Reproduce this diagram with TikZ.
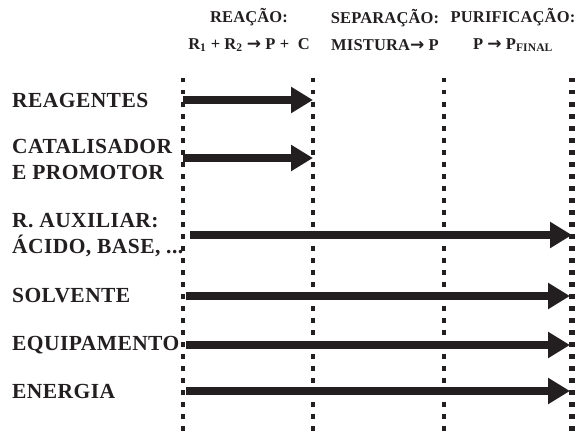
\documentclass[tikz,border=0pt]{standalone}
\usepackage{fontspec}
\setmainfont{Liberation Serif}
\newfontfamily\arrowfont{DejaVu Sans}
\usetikzlibrary{arrows.meta}
\definecolor{ink}{HTML}{231F20}
\newcommand{\rarr}{{\arrowfont\bfseries\fontsize{17}{17}\selectfont →}}
\begin{document}
\begin{tikzpicture}[x=1pt,y=-1pt,
  lab/.style={anchor=west,inner sep=0pt,align=left,text=ink,
    font=\fontsize{21.5}{26}\selectfont\bfseries\addfontfeature{LetterSpace=2}},
  head/.style={inner sep=0pt,align=center,text=ink,
    font=\fontsize{16.5}{27}\selectfont\bfseries\addfontfeature{LetterSpace=1}},
  divider/.style={draw=ink,line width=4.5pt,dash pattern=on 4.5pt off 7.5pt},
  flow/.style={draw=ink,line width=8pt,-{Triangle[length=22pt,width=25pt]}}]
\useasboundingbox (0,0) rectangle (576,436);
% headers
\node[head] (h1) at (249,30) {REAÇÃO:\\R\textsubscript{1} + R\textsubscript{2} \rarr\ P +~ C};
\node[head] (h2) at (385,30) {SEPARAÇÃO:\\MISTURA\rarr\ P};
\node[head] (h3) at (513,30) {PURIFICAÇÃO:\\P \rarr\ P\textsubscript{FINAL}};
% dividers
\coordinate (d1t) at (183,78); \coordinate (d1b) at (183,438);
\coordinate (d2t) at (313,78); \coordinate (d2b) at (313,438);
\coordinate (d3t) at (444,78); \coordinate (d3b) at (444,438);
\coordinate (d4t) at (572,78); \coordinate (d4b) at (572,438);
\draw[divider] (d1t) -- (d1b);
\draw[divider] (d2t) -- (d2b);
\draw[divider] (d3t) -- (d3b);
\draw[divider,line width=5.5pt] (d4t) -- (d4b);
% labels
\node[lab] (l1) at (12,100) {REAGENTES};
\node[lab] (l2) at (12,159) {CATALISADOR\\E PROMOTOR};
\node[lab] (l3) at (12,235) {R. AUXILIAR:\\ÁCIDO, BASE, ...};
\node[lab] (l4) at (12,296) {SOLVENTE};
\node[lab] (l5) at (12,345) {EQUIPAMENTO};
\node[lab] (l6) at (12,391) {ENERGIA};
% flows
\coordinate (a1s) at (183,100); \coordinate (a1e) at (313,100);
\coordinate (a2s) at (183,158); \coordinate (a2e) at (313,158);
\coordinate (a3s) at (190,235); \coordinate (a3e) at (572,235);
\coordinate (a4s) at (186,296); \coordinate (a4e) at (570,296);
\coordinate (a5s) at (186,345); \coordinate (a5e) at (570,345);
\coordinate (a6s) at (186,391); \coordinate (a6e) at (570,391);
\draw[flow] (a1s) -- (a1e);
\draw[flow] (a2s) -- (a2e);
\draw[flow] (a3s) -- (a3e);
\draw[flow] (a4s) -- (a4e);
\draw[flow] (a5s) -- (a5e);
\draw[flow] (a6s) -- (a6e);
\end{tikzpicture}
\end{document}
